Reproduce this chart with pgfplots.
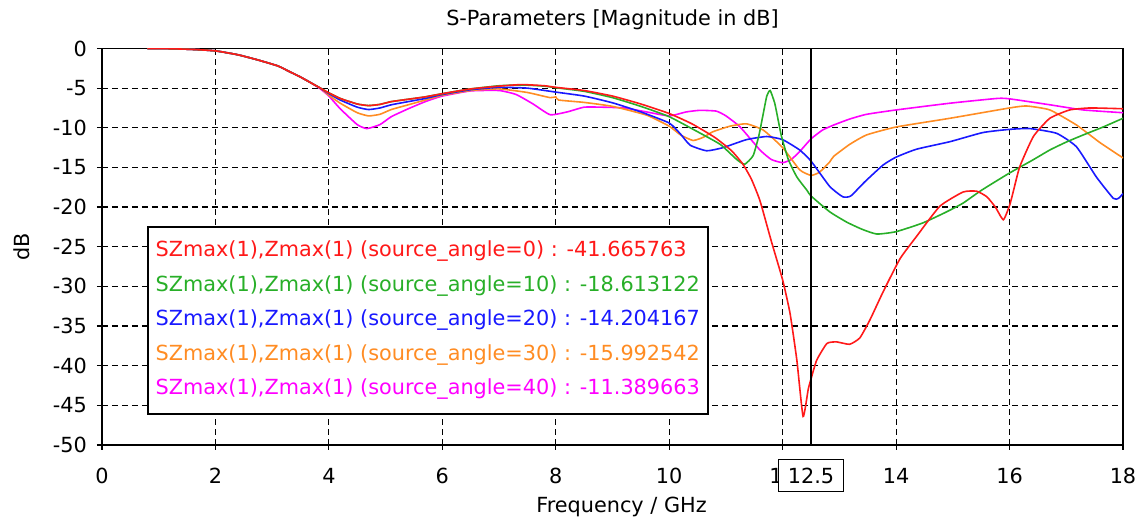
\documentclass[border=0pt]{standalone}
\usepackage{pgfplots}
\pgfplotsset{compat=1.18}
\usepackage{fontspec}
\setmainfont{DejaVu Sans}
\definecolor{cR}{RGB}{255,25,25}
\definecolor{cG}{RGB}{40,175,40}
\definecolor{cB}{RGB}{25,25,255}
\definecolor{cO}{RGB}{255,140,35}
\definecolor{cM}{RGB}{255,0,255}

\pgfplotstableread{
x y
0.8 0
1.2 -0.03
1.6 -0.12
2.0 -0.3
2.4 -0.8
2.75 -1.45
3.1 -2.2
3.3 -2.9
3.5 -3.6
3.7 -4.4
3.85 -5.0
4.0 -5.6
4.2 -6.3
4.5 -7.0
4.7 -7.2
4.9 -7.05
5.1 -6.7
5.4 -6.4
5.7 -6.1
6.0 -5.7
6.5 -5.1
7.0 -4.75
7.4 -4.55
7.8 -4.7
8.0 -4.9
8.5 -5.3
9.0 -6.0
9.5 -7.0
10.0 -8.2
10.4 -9.5
10.8 -11.2
11.1 -12.9
11.3 -14.6
11.45 -16.5
11.6 -19.2
11.8 -24.3
12.0 -29.2
12.13 -33.4
12.25 -39.3
12.36 -46.4
12.45 -43.0
12.5 -41.67
12.6 -39.3
12.78 -37.2
12.95 -37.0
13.18 -37.3
13.36 -36.5
13.54 -34.2
13.77 -30.7
14.07 -26.5
14.36 -23.7
14.77 -19.9
15.18 -18.1
15.42 -18.0
15.6 -18.7
15.75 -20.0
15.89 -21.6
16.0 -19.8
16.06 -18.2
16.18 -14.9
16.42 -11.1
16.71 -8.8
17.06 -7.75
17.42 -7.5
18.0 -7.6
}\redtab

\pgfplotstableread{
x y
0.8 0
1.2 -0.03
1.6 -0.12
2.0 -0.3
2.4 -0.8
2.75 -1.45
3.1 -2.2
3.3 -2.9
3.5 -3.6
3.7 -4.4
3.85 -5.0
4.0 -5.6
4.2 -6.3
4.5 -7.0
4.7 -7.2
4.9 -7.05
5.1 -6.7
5.4 -6.4
5.7 -6.1
6.0 -5.7
6.5 -5.1
7.0 -4.7
7.4 -4.6
7.8 -4.75
8.0 -4.95
8.5 -5.4
9.0 -6.2
9.5 -7.3
10.0 -8.6
10.5 -10.5
10.9 -12.1
11.19 -14.0
11.33 -14.6
11.48 -13.5
11.58 -11.0
11.65 -8.5
11.72 -6.0
11.78 -5.3
11.86 -6.9
11.92 -9.0
11.98 -11.1
12.1 -14.0
12.25 -16.2
12.43 -17.9
12.5 -18.6
12.83 -20.6
13.13 -21.9
13.4 -22.8
13.66 -23.4
14.0 -23.1
14.47 -22.0
14.89 -20.6
15.18 -19.5
15.5 -17.9
16.0 -15.7
16.4 -14.1
16.71 -12.8
17.0 -11.8
17.3 -10.9
17.65 -9.9
18.0 -8.8
}\greentab

\pgfplotstableread{
x y
0.8 0
1.2 -0.03
1.6 -0.12
2.0 -0.3
2.4 -0.8
2.75 -1.45
3.1 -2.2
3.3 -2.9
3.5 -3.6
3.7 -4.4
3.85 -5.0
4.0 -5.7
4.2 -6.5
4.5 -7.4
4.7 -7.7
4.9 -7.5
5.1 -7.1
5.4 -6.7
5.7 -6.3
6.0 -5.8
6.5 -5.2
7.0 -4.9
7.5 -5.0
8.0 -5.5
8.5 -6.0
9.0 -6.85
9.5 -8.0
10.0 -9.4
10.2 -10.8
10.37 -12.2
10.66 -12.9
10.95 -12.5
11.36 -11.5
11.72 -11.1
12.0 -11.5
12.3 -12.8
12.5 -14.2
12.83 -17.4
13.06 -18.7
13.2 -18.6
13.45 -16.8
13.77 -14.7
14.0 -13.7
14.36 -12.7
14.95 -11.75
15.53 -10.6
16.0 -10.2
16.36 -10.1
16.83 -10.7
17.18 -12.4
17.53 -16.2
17.83 -18.9
17.92 -18.9
18.0 -18.3
}\bluetab

\pgfplotstableread{
x y
0.8 0
1.2 -0.03
1.6 -0.12
2.0 -0.3
2.4 -0.8
2.75 -1.45
3.1 -2.2
3.3 -2.9
3.5 -3.6
3.7 -4.4
3.85 -5.0
4.0 -5.9
4.2 -6.9
4.5 -8.1
4.7 -8.5
4.9 -8.3
5.1 -7.7
5.4 -7.1
5.7 -6.5
6.0 -5.9
6.5 -5.3
7.0 -5.1
7.5 -5.55
7.9 -6.2
8.0 -6.1
8.05 -6.5
8.5 -6.8
9.0 -7.3
9.6 -8.4
10.0 -9.8
10.2 -10.9
10.42 -11.6
10.6 -11.2
10.77 -10.5
11.07 -9.8
11.36 -9.5
11.66 -10.3
12.0 -12.5
12.3 -15.3
12.5 -16.0
12.65 -15.6
12.83 -14.3
12.9 -13.6
13.18 -12.1
13.48 -10.9
14.0 -9.9
14.95 -8.8
16.0 -7.5
16.3 -7.25
16.71 -7.75
17.18 -9.65
17.6 -11.9
18.0 -13.8
}\orangetab

\pgfplotstableread{
x y
0.8 0
1.2 -0.03
1.6 -0.12
2.0 -0.3
2.4 -0.8
2.75 -1.45
3.1 -2.2
3.3 -2.9
3.5 -3.6
3.7 -4.4
3.85 -5.1
4.0 -6.0
4.2 -7.6
4.5 -9.6
4.67 -10.1
4.9 -9.6
5.1 -8.6
5.4 -7.6
5.7 -6.7
6.0 -6.0
6.5 -5.35
7.0 -5.3
7.3 -5.8
7.6 -7.0
7.9 -8.35
8.2 -8.0
8.5 -7.4
8.8 -7.4
9.2 -7.5
9.6 -8.0
10.0 -8.5
10.3 -8.0
10.54 -7.8
10.83 -7.9
11.0 -8.5
11.25 -9.9
11.6 -12.8
11.8 -14.0
12.0 -14.4
12.15 -14.0
12.3 -13.0
12.5 -11.4
12.7 -10.3
12.9 -9.65
13.18 -8.9
13.48 -8.3
14.0 -7.75
14.95 -6.9
15.78 -6.3
16.0 -6.35
16.71 -7.1
17.3 -7.75
18.0 -8.1
}\pinktab

\begin{document}
\begin{tikzpicture}
\path[use as bounding box] (-51pt,-38.5pt) rectangle (522.5pt,222.5pt);
\begin{axis}[
  at={(0,0)}, anchor=south west,
  scale only axis, width=510.5pt, height=198.25pt,
  xmin=0, xmax=18, ymin=-50, ymax=0,
  xtick={0,2,...,18}, ytick={-50,-45,...,0},
  grid=major,
  major grid style={black, dash pattern=on 3pt off 2pt, line width=0.6pt},
  axis line style={black, line width=0.8pt},
  tick align=center, major tick length=5pt,
  tick style={black, line width=0.6pt},
  xtick pos=bottom, ytick pos=left,
  /pgf/number format/assume math mode=true,
  ticklabel style={font=\fontsize{10.4}{12}\selectfont},
  xticklabel style={yshift=-5.5pt},
  yticklabel style={xshift=-1.5pt},
  title={S-Parameters [Magnitude in dB]},
  title style={font=\fontsize{10.4}{12}\selectfont, at={(axis description cs:0.5,1)}, anchor=center, yshift=8.25pt},
  xlabel={Frequency / GHz},
  xlabel style={font=\fontsize{10.4}{12}\selectfont, at={(axis description cs:0.5,0)}, anchor=center, yshift=-31pt, xshift=4.5pt},
  ylabel={dB},
  ylabel style={font=\fontsize{10.4}{12}\selectfont, at={(axis description cs:0,0.5)}, anchor=center, yshift=40pt},
  every axis plot/.append style={line width=0.8pt},
]
\addplot[cM, smooth, tension=0.3] table {\pinktab};
\addplot[cO, smooth, tension=0.3] table {\orangetab};
\addplot[cB, smooth, tension=0.3] table {\bluetab};
\addplot[cG, smooth, tension=0.3] table {\greentab};
\addplot[cR, smooth, tension=0.3] table {\redtab};
\draw[black, line width=1.4pt] (axis cs:12.5,-50) -- (axis cs:12.5,0);
\node[draw=black, line width=0.9pt, fill=white, anchor=north west, align=left,
      inner xsep=4pt, inner ysep=7pt, font=\fontsize{10.4}{17.25}\selectfont]
  at (axis cs:0.79,-22.4) {%
  \textcolor{cR}{SZmax(1),Zmax(1) (source\_angle=0) : -41.665763}\\
  \textcolor{cG}{SZmax(1),Zmax(1) (source\_angle=10) : -18.613122}\\
  \textcolor{cB}{SZmax(1),Zmax(1) (source\_angle=20) : -14.204167}\\
  \textcolor{cO}{SZmax(1),Zmax(1) (source\_angle=30) : -15.992542}\\
  \textcolor{cM}{SZmax(1),Zmax(1) (source\_angle=40) : -11.389663}};
\coordinate (cur) at (axis cs:12.5,-50);
\end{axis}
\node[draw=black, line width=0.6pt, fill=white, anchor=north, inner xsep=4.5pt, inner ysep=4pt,
      font=\fontsize{10.4}{12}\selectfont] at ([yshift=-7pt]cur) {12.5};
\end{tikzpicture}
\end{document}
